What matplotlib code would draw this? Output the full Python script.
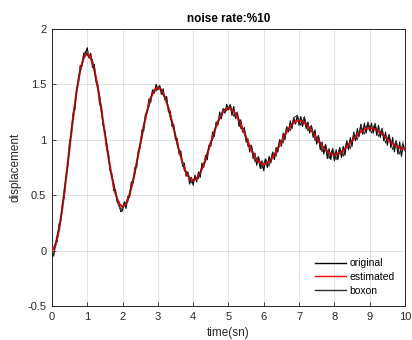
"""Noisy damped response: original vs estimated vs boxon (noise rate 10%)."""
import matplotlib
matplotlib.use("Agg")
import matplotlib.pyplot as plt
import numpy as np

plt.rcParams["font.family"] = ["Liberation Sans", "DejaVu Sans"]

# estimated response, sampled every 0.1 s from 0 to 10
t_est = np.round(np.arange(0, 10.01, 0.1), 2)
estimated = [
    0.000, 0.048, 0.186, 0.394, 0.652, 0.929, 1.201, 1.439, 1.624, 1.739,
    1.779, 1.741, 1.634, 1.472, 1.271, 1.055, 0.844, 0.658, 0.514, 0.424,
    0.394, 0.423, 0.506, 0.633, 0.789, 0.957, 1.122, 1.266, 1.378, 1.448,
    1.472, 1.450, 1.385, 1.286, 1.165, 1.033, 0.905, 0.793, 0.705, 0.651,
    0.632, 0.650, 0.700, 0.777, 0.872, 0.974, 1.074, 1.162, 1.230, 1.272,
    1.287, 1.273, 1.233, 1.174, 1.100, 1.020, 0.943, 0.874, 0.821, 0.788,
    0.777, 0.788, 0.818, 0.865, 0.922, 0.984, 1.045, 1.098, 1.139, 1.165,
    1.174, 1.165, 1.141, 1.105, 1.061, 1.012, 0.965, 0.924, 0.892, 0.871,
    0.865, 0.871, 0.890, 0.918, 0.953, 0.990, 1.027, 1.059, 1.084, 1.100,
    1.105, 1.100, 1.086, 1.064, 1.037, 1.007, 0.979, 0.954, 0.934, 0.922,
    0.918,
]

# noisy measured signal, every 0.05 s
t_orig = np.round(np.arange(0, 10.001, 0.05), 2)
original = [
    -0.04, -0.04, 0.07, 0.08, 0.24, 0.27, 0.43, 0.48, 0.68, 0.77,
    0.98, 1.04, 1.24, 1.27, 1.46, 1.51, 1.67, 1.67, 1.78, 1.78,
    1.83, 1.74, 1.78, 1.65, 1.68, 1.54, 1.50, 1.32, 1.31, 1.13,
    1.08, 0.91, 0.89, 0.72, 0.69, 0.54, 0.55, 0.44, 0.44, 0.35,
    0.36, 0.44, 0.38, 0.49, 0.48, 0.62, 0.61, 0.75, 0.75, 0.90,
    0.93, 1.09, 1.08, 1.23, 1.25, 1.37, 1.34, 1.45, 1.42, 1.50,
    1.45, 1.49, 1.41, 1.46, 1.36, 1.39, 1.25, 1.26, 1.12, 1.14,
    1.00, 1.01, 0.87, 0.90, 0.76, 0.79, 0.67, 0.71, 0.60, 0.66,
    0.59, 0.68, 0.62, 0.71, 0.66, 0.79, 0.75, 0.86, 0.82, 0.95,
    0.94, 1.07, 1.03, 1.16, 1.13, 1.25, 1.19, 1.28, 1.24, 1.32,
    1.27, 1.31, 1.22, 1.30, 1.19, 1.24, 1.12, 1.18, 1.07, 1.11,
    0.98, 1.01, 0.89, 0.95, 0.83, 0.88, 0.77, 0.84, 0.74, 0.81,
    0.72, 0.82, 0.75, 0.85, 0.79, 0.88, 0.82, 0.93, 0.89, 1.00,
    0.94, 1.06, 1.00, 1.11, 1.07, 1.17, 1.10, 1.20, 1.14, 1.22,
    1.13, 1.21, 1.12, 1.20, 1.10, 1.16, 1.06, 1.12, 1.02, 1.09,
    0.96, 1.03, 0.91, 0.98, 0.87, 0.95, 0.83, 0.92, 0.82, 0.92,
    0.81, 0.91, 0.82, 0.93, 0.84, 0.94, 0.86, 0.99, 0.91, 1.02,
    0.94, 1.07, 0.99, 1.10, 1.03, 1.14, 1.05, 1.15, 1.06, 1.15,
    1.08, 1.15, 1.06, 1.14, 1.04, 1.13, 1.02, 1.10, 0.99, 1.07,
    0.95, 1.04, 0.93, 1.02, 0.89, 0.99, 0.87, 0.98, 0.85, 0.96,
    0.90,
]

# second noisy trace, sampled between the 0.1 s grid points
t_box = np.round(np.arange(0.05, 10.0, 0.1), 2)
boxon = [
    -0.05, 0.14, 0.27, 0.55, 0.77, 1.09, 1.30, 1.56, 1.67, 1.80,
    1.74, 1.72, 1.52, 1.40, 1.14, 0.97, 0.72, 0.61, 0.44, 0.36,
    0.42, 0.44, 0.60, 0.69, 0.90, 1.02, 1.22, 1.30, 1.44, 1.44,
    1.49, 1.40, 1.36, 1.20, 1.12, 0.95, 0.87, 0.72, 0.70, 0.61,
    0.66, 0.65, 0.76, 0.80, 0.95, 1.00, 1.14, 1.18, 1.28, 1.26,
    1.32, 1.21, 1.25, 1.10, 1.10, 0.94, 0.95, 0.80, 0.85, 0.74,
    0.83, 0.76, 0.89, 0.85, 1.00, 0.97, 1.12, 1.08, 1.20, 1.22,
    1.13, 1.21, 1.08, 1.13, 0.99, 1.04, 0.89, 0.96, 0.83, 0.92,
    0.82, 0.93, 0.85, 0.99, 0.92, 1.06, 1.00, 1.13, 1.05, 1.16,
    1.06, 1.15, 1.03, 1.10, 0.97, 1.05, 0.91, 0.99, 0.87, 0.98,
]

x_ticks = list(range(0, 11))
y_ticks = [-0.5, 0, 0.5, 1, 1.5, 2]
y_tick_labels = ["-0.5", "0", "0.5", "1", "1.5", "2"]

fig = plt.figure(figsize=(4.12, 3.40), dpi=100)
ax = fig.add_axes([0.126, 0.10, 0.857, 0.815])

ax.plot(t_orig, original, color="black", lw=0.8, label="original", zorder=3)
ax.plot(t_est, estimated, color="red", lw=1.5, label="estimated", zorder=4)
ax.plot(t_box, boxon, color="#2b2b2b", lw=0.7, label="boxon", zorder=5)

ax.set_xlim(0, 10)
ax.set_ylim(-0.5, 2)
ax.set_xticks(x_ticks)
ax.set_yticks(y_ticks)
ax.set_yticklabels(y_tick_labels)

ax.grid(True, color="#dcdcdc", lw=0.6)
ax.set_axisbelow(True)
for side in ax.spines.values():
    side.set_color("#262626")
    side.set_linewidth(0.7)
ax.tick_params(direction="in", length=3, width=0.6, colors="#262626",
               labelsize=8, top=False, right=False, pad=4)

ax.set_title("noise rate:%10", fontsize=8.5, fontweight="bold", pad=5)
ax.set_xlabel("time(sn)", fontsize=8.5, color="#262626")
ax.set_ylabel("displacement", fontsize=8.5, color="#262626")

leg = ax.legend(loc="lower right", frameon=False, fontsize=7.5, handlelength=3.0,
                handletextpad=0.3, labelspacing=0.35, borderaxespad=0.6)
for line in leg.get_lines():
    line.set_linewidth(1.0)

fig.savefig("out.png", dpi=100)
